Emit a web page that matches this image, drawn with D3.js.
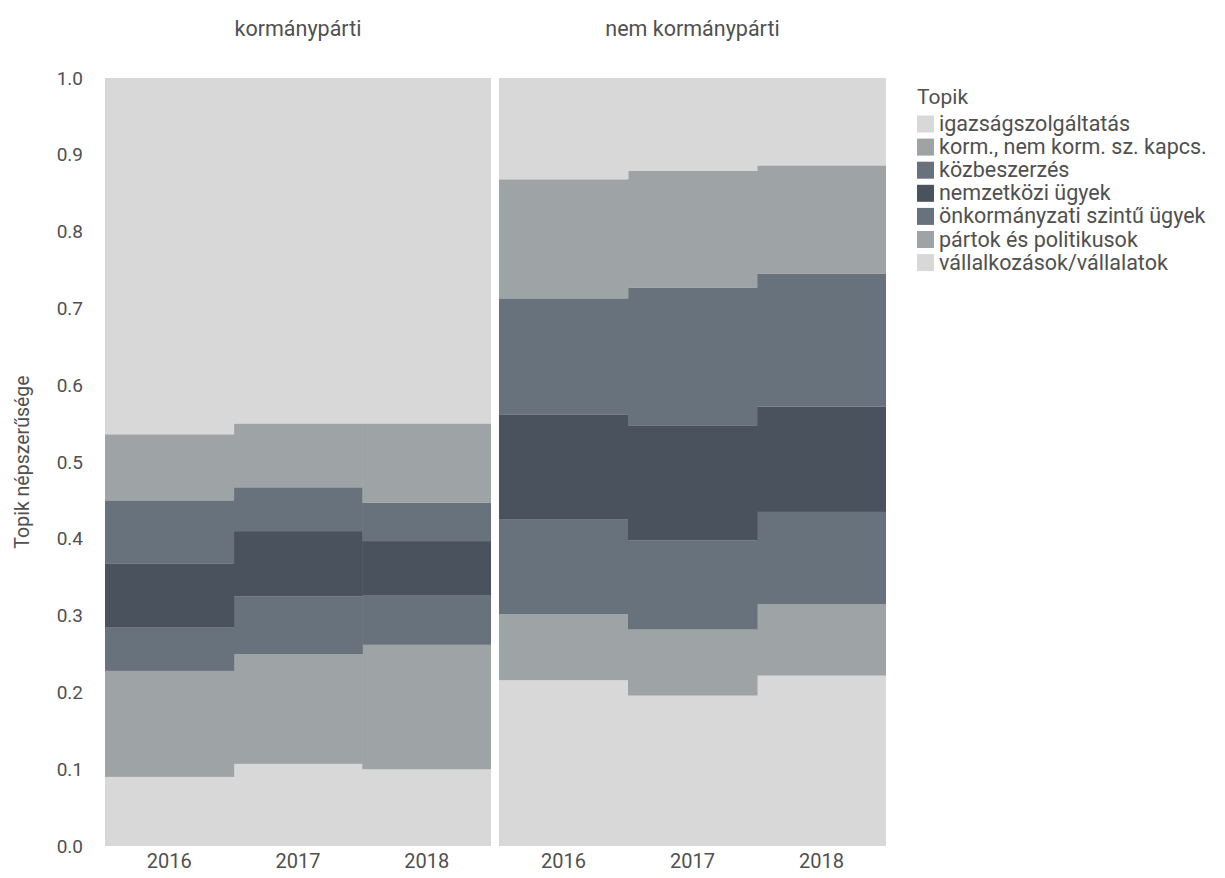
<!DOCTYPE html>
<html>
<head>
<meta charset="utf-8">
<script src="https://cdn.jsdelivr.net/npm/d3@7"></script>
<style>
  html, body { margin: 0; padding: 0; background: #fff; }
  svg text { font-family: Roboto, "Noto Sans", sans-serif; fill: #505050; }
</style>
</head>
<body>
<svg id="chart" width="1225" height="878"></svg>
<script>
// ---- data ----
const years = ["2016", "2017", "2018"];
const panels = ["kormánypárti", "nem kormánypárti"];
// legend order (top of stack first)
const topics = [
  "igazságszolgáltatás",
  "korm., nem korm. sz. kapcs.",
  "közbeszerzés",
  "nemzetközi ügyek",
  "önkormányzati szintű ügyek",
  "pártok és politikusok",
  "vállalkozások/vállalatok"
];
const topicColors = ["#d8d8d8", "#9ea3a6", "#68727c", "#4a525e", "#68727c", "#9ea3a6", "#d8d8d8"];
// shares per topic, per year [2016, 2017, 2018]
const kormIgazsag   = [0.464, 0.450, 0.450];
const kormKormKapcs = [0.086, 0.083, 0.103];
const kormKozbesz   = [0.082, 0.057, 0.050];
const kormNemzetk   = [0.083, 0.085, 0.071];
const kormOnkorm    = [0.057, 0.075, 0.064];
const kormPartok    = [0.138, 0.143, 0.162];
const kormVallalk   = [0.090, 0.107, 0.100];

const nemIgazsag    = [0.132, 0.121, 0.114];
const nemKormKapcs  = [0.155, 0.152, 0.141];
const nemKozbesz    = [0.151, 0.180, 0.173];
const nemNemzetk    = [0.137, 0.149, 0.137];
const nemOnkorm     = [0.123, 0.116, 0.120];
const nemPartok     = [0.086, 0.086, 0.093];
const nemVallalk    = [0.216, 0.196, 0.222];

const yTicks = [0, 0.1, 0.2, 0.3, 0.4, 0.5, 0.6, 0.7, 0.8, 0.9, 1.0];

// ---- build tables ----
const panelSeries = [
  [kormIgazsag, kormKormKapcs, kormKozbesz, kormNemzetk, kormOnkorm, kormPartok, kormVallalk],
  [nemIgazsag, nemKormKapcs, nemKozbesz, nemNemzetk, nemOnkorm, nemPartok, nemVallalk]
];
const stackKeys = topics.slice().reverse(); // bottom first
const color = d3.scaleOrdinal().domain(topics).range(topicColors);

const svg = d3.select("#chart");
const plotTop = 78, plotBottom = 846;
const panelX = [[105, 491], [499, 886]];

const y = d3.scaleLinear().domain([0, 1]).range([plotBottom, plotTop]);

panels.forEach((pname, pi) => {
  const rows = years.map((yr, yi) => {
    const r = { year: yr };
    topics.forEach((t, ti) => { r[t] = panelSeries[pi][ti][yi]; });
    return r;
  });
  const stacked = d3.stack().keys(stackKeys).offset(d3.stackOffsetExpand)(rows);
  const x = d3.scaleBand().domain(years).range(panelX[pi]).padding(0);
  const g = svg.append("g");
  g.append("rect").attr("x", panelX[pi][0]).attr("y", plotTop)
    .attr("width", panelX[pi][1] - panelX[pi][0]).attr("height", plotBottom - plotTop)
    .attr("fill", "#d8d8d8");
  stacked.forEach(layer => {
    g.selectAll(null).data(layer).enter().append("rect")
      .attr("x", d => x(d.data.year))
      .attr("width", d => d.data.year === years[years.length - 1] ? x.bandwidth() : x.bandwidth() + 0.5)
      .attr("y", d => y(d[1]))
      .attr("height", d => y(d[0]) - y(d[1]))
      .attr("fill", color(layer.key));
  });
  // strip title
  svg.append("text").attr("x", (panelX[pi][0] + panelX[pi][1]) / 2).attr("y", 36)
    .attr("text-anchor", "middle").attr("font-size", 21.5).text(pname);
  // x axis labels
  const xa = svg.append("g").attr("transform", `translate(0,${plotBottom})`)
    .call(d3.axisBottom(x).tickSize(0).tickPadding(8));
  xa.select(".domain").remove();
  xa.selectAll("text").attr("font-size", 20).attr("fill", "#505050").attr("font-family", "Roboto");
});

// y axis
const ya = svg.append("g").attr("transform", `translate(${panelX[0][0] - 6},0)`)
  .call(d3.axisLeft(y).tickValues(yTicks).tickFormat(d3.format(".1f")).tickSize(0).tickPadding(16));
ya.select(".domain").remove();
ya.selectAll("text").attr("font-size", 19).attr("fill", "#505050").attr("font-family", "Roboto");

svg.append("text").attr("transform", `translate(29,${(plotTop + plotBottom) / 2}) rotate(-90)`)
  .attr("text-anchor", "middle").attr("font-size", 19.5).text("Topik népszerűsége");

// legend
const lg = svg.append("g").attr("transform", "translate(917,97)");
lg.append("text").attr("x", 0).attr("y", 7).attr("font-size", 21).text("Topik");
topics.forEach((t, i) => {
  const row = lg.append("g").attr("transform", `translate(0,${27 + i * 23.1})`);
  row.append("rect").attr("x", 0).attr("y", -8.5).attr("width", 17).attr("height", 17).attr("fill", color(t));
  row.append("text").attr("x", 22).attr("y", 7).attr("font-size", 21.5).text(t);
});
</script>
</body>
</html>
